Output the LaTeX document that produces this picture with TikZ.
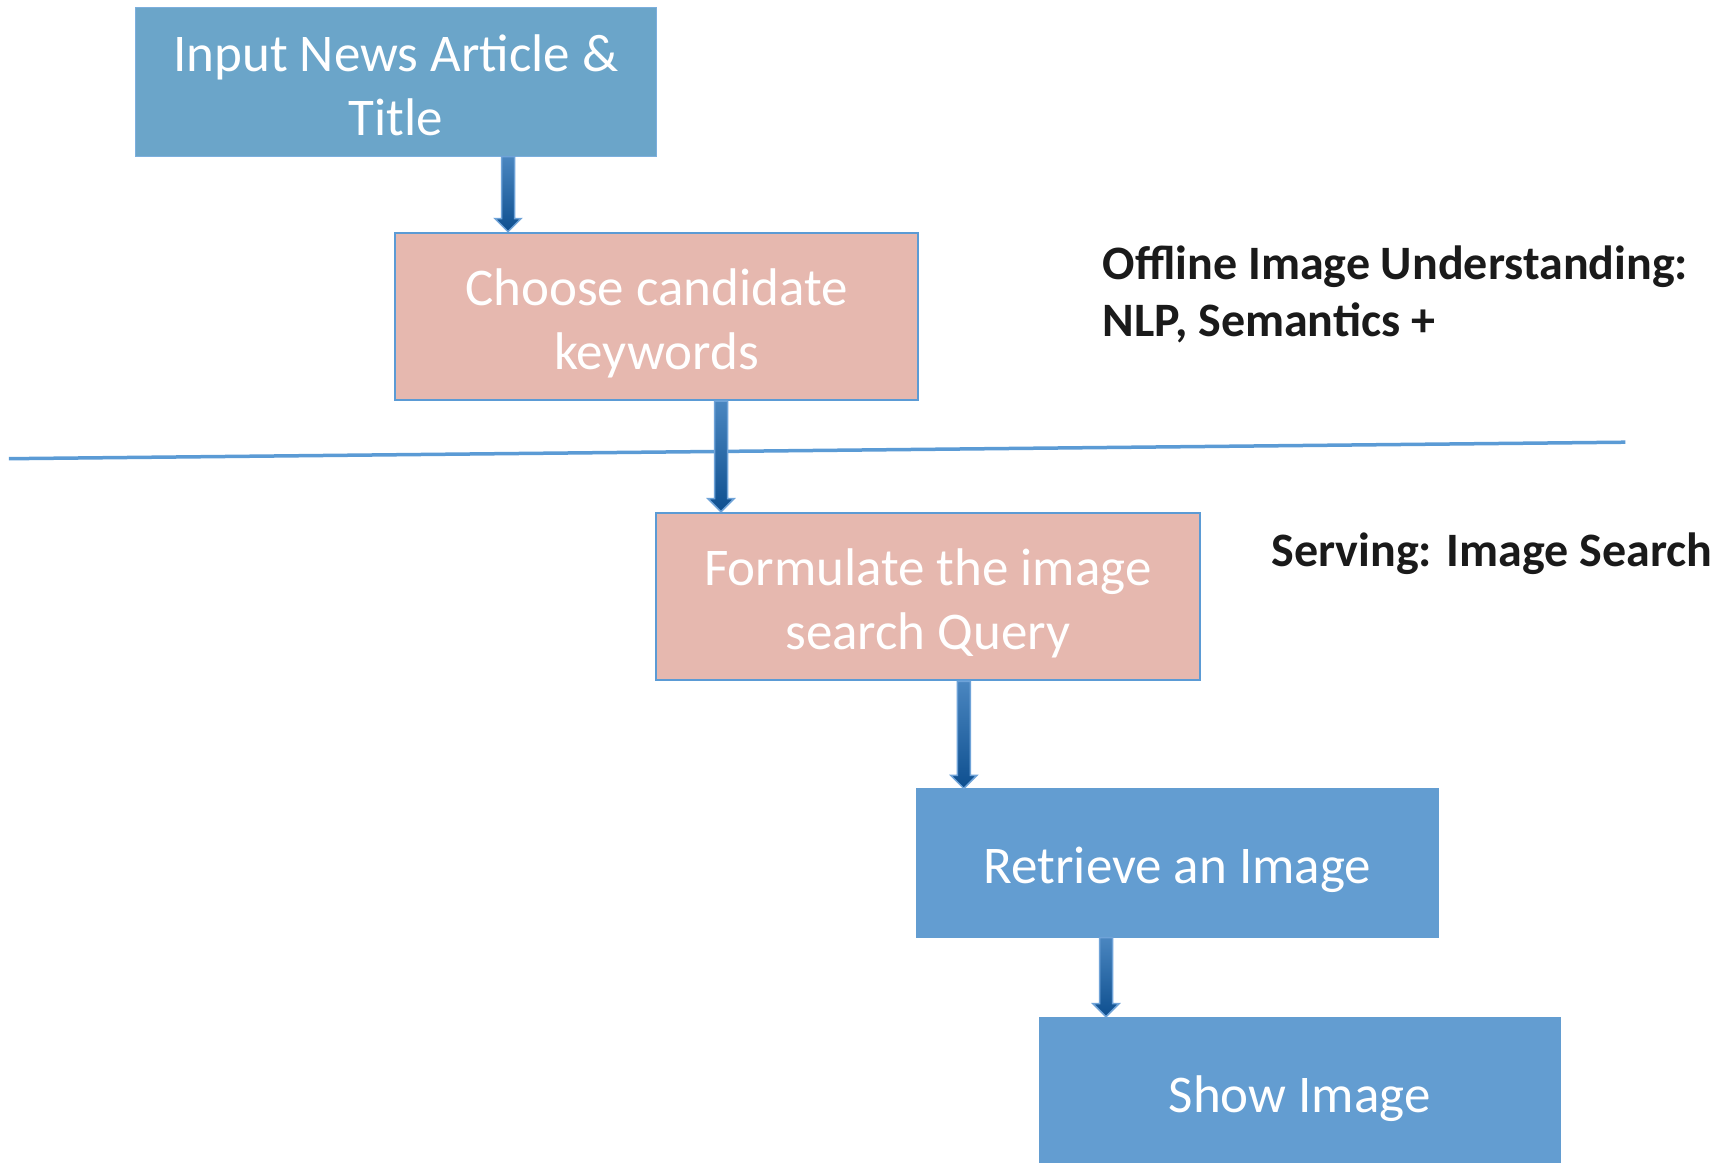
\documentclass[tikz,border=0pt]{standalone}
\usepackage{fontspec}
\setmainfont{Carlito}
\usetikzlibrary{calc}
\definecolor{boxA}{HTML}{6BA5C9}
\definecolor{boxB}{HTML}{639DD1}
\definecolor{pinkf}{HTML}{E6B8AF}
\definecolor{edgeb}{HTML}{5B9BD5}
\definecolor{arrtop}{HTML}{4A86C0}
\definecolor{arrbot}{HTML}{0E4F8F}
\definecolor{arredge}{HTML}{6FA3D8}
\definecolor{txt}{HTML}{1A1A1A}
\newcommand\blockarrow[2]{%
  \path[top color=arrtop, bottom color=arrbot, draw=arredge, line width=1.5pt, line join=miter]
    let \p1=(#1.south), \p2=(#2) in
    (\x2-6.5,\y1) -- (\x2+6.5,\y1) -- (\x2+6.5,\y2+13) -- (\x2+13,\y2+13) -- (\x2,\y2)
    -- (\x2-13,\y2+13) -- (\x2-6.5,\y2+13) -- cycle;}
\begin{document}
\begin{tikzpicture}[x=1pt,y=1pt,
  flowbox/.style={anchor=north west, inner sep=0pt},
  bluebox/.style={flowbox, fill=boxB, draw=boxB},
  pinkbox/.style={flowbox, fill=pinkf, draw=edgeb, line width=2pt},
  boxtext/.style={inner sep=0pt, align=center, text=white,
    font=\fontsize{53}{64}\selectfont},
  sidelabel/.style={anchor=base west, inner sep=0pt, text=txt,
    font=\fontsize{48}{57}\selectfont\bfseries}]
\useasboundingbox (0,0) rectangle (1729,-1162);
\fill[white] (0,0) rectangle (1729,-1162);

\node[flowbox, fill=boxA, draw=edgeb!80, line width=1pt, minimum width=521.5pt, minimum height=149pt]
  (b1) at (134.5,-6.6) {};
\node[pinkbox, minimum width=523.7pt, minimum height=167.6pt]
  (b2) at (393.7,-231.6) {};
\node[pinkbox, minimum width=543.6pt, minimum height=167.6pt]
  (b3) at (655,-511.7) {};
\node[bluebox, minimum width=521.6pt, minimum height=148.9pt]
  (b4) at (916.3,-788.4) {};
\node[bluebox, minimum width=521.6pt, minimum height=148.9pt]
  (b5) at (1038.7,-1016.7) {};

\node[boxtext] (b1t) at ([yshift=-4pt]b1.center) {Input News Article \&\\Title};
\node[boxtext] (b2t) at ([yshift=-7pt]b2.center) {Choose candidate\\keywords};
\node[boxtext] (b3t) at ([yshift=-7pt]b3.center) {Formulate the image\\search Query};
\node[boxtext] (b4t) at ([yshift=-7pt]b4.center) {Retrieve an Image};
\node[boxtext] (b5t) at ([yshift=-7pt]b5.center) {Show Image};

\coordinate (l1) at (8.8,-458.7);
\coordinate (l2) at (1625.4,-442.2);
\draw[edgeb, line width=3.5pt] (l1) -- (l2);

\blockarrow{b1}{[xshift=114.3pt]b2.north west}
\blockarrow{b2}{[xshift=66pt]b3.north west}
\blockarrow{b3}{[xshift=47.5pt]b4.north west}
\blockarrow{b4}{[xshift=67.3pt]b5.north west}

\node[sidelabel] (t1) at (1102.7,-279) {Offline Image Understanding:};
\node[sidelabel] (t2) at (1102.7,-336) {NLP, Semantics +};
\node[sidelabel] (t3) at (1271.4,-566) {Serving: Image Search};
\end{tikzpicture}
\end{document}
